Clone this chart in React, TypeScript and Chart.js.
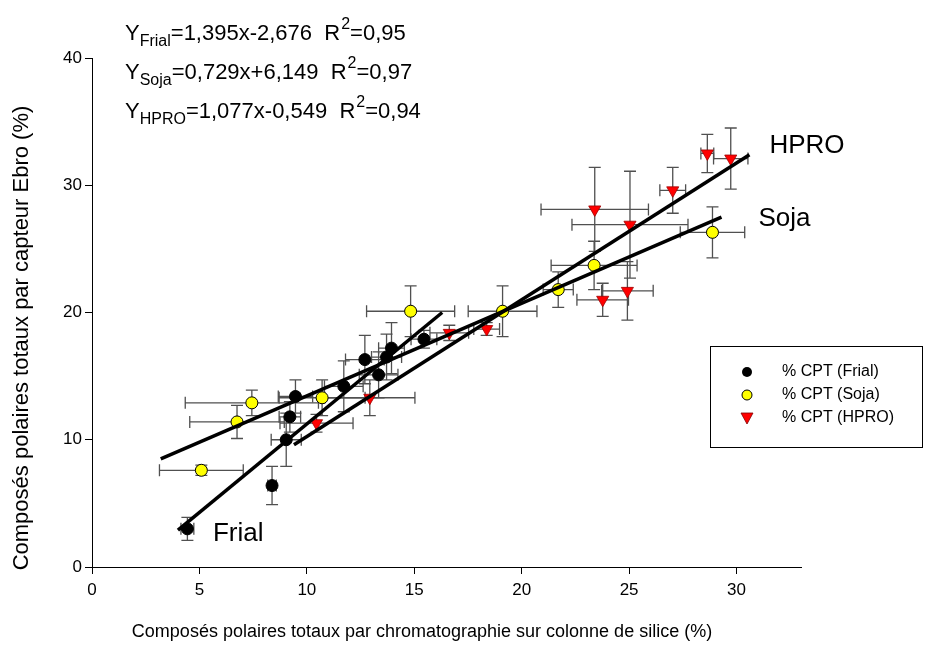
import React, { useEffect, useRef } from 'react';
import { Chart, registerables } from 'chart.js';

Chart.register(...registerables);

// ---------- data ----------
const frialX = [4.44, 8.38, 9.04, 9.21, 9.47, 11.72, 12.70, 13.34, 13.71, 13.94, 15.45];
const frialY = [3.0, 6.4, 10.0, 11.8, 13.4, 14.2, 16.3, 15.1, 16.5, 17.2, 17.9];
const frialXErr = [0.3, 0.2, 0.7, 0.5, 0.8, 0.9, 0.9, 0.9, 0.7, 0.6, 0.6];
const frialYErr = [0.9, 1.5, 2.1, 1.2, 1.3, 2.0, 1.9, 1.8, 1.8, 2.0, 0.7];

const sojaX = [5.09, 6.75, 7.44, 10.71, 14.83, 19.11, 21.70, 23.37, 28.88];
const sojaY = [7.6, 11.4, 12.9, 13.3, 20.1, 20.1, 21.8, 23.7, 26.3];
const sojaXErr = [1.95, 2.2, 3.1, 2.0, 2.05, 1.6, 0.7, 2.0, 1.5];
const sojaYErr = [0.4, 1.3, 1.0, 1.4, 2.0, 2.0, 1.4, 1.9, 2.0];

const hproX = [10.45, 12.93, 16.63, 18.37, 23.40, 25.04, 23.77, 24.92, 27.03, 28.64, 29.73];
const hproY = [11.3, 13.3, 18.4, 18.7, 28.1, 26.9, 21.0, 21.7, 29.6, 32.5, 32.1];
const hproXErr = [1.7, 2.1, 0.9, 0.6, 2.5, 2.7, 1.2, 1.2, 0.6, 0.3, 0.8];
const hproYErr = [0.7, 1.4, 0.6, 0.5, 3.3, 4.2, 1.3, 2.3, 1.8, 1.5, 2.4];

// regression line end points
const fitFrialX = [4.0, 16.3];
const fitFrialY = [2.9, 20.0];
const fitSojaX = [3.2, 29.3];
const fitSojaY = [8.5, 27.5];
const fitHproX = [9.4, 30.6];
const fitHproY = [9.6, 32.4];

const xTicks = [0, 5, 10, 15, 20, 25, 30];
const yTicks = [0, 10, 20, 30, 40];

const legendLabels = ['% CPT (Frial)', '% CPT (Soja)', '% CPT (HPRO)'];
const eqNames = ['Frial', 'Soja', 'HPRO'];
const eqBodies = ['=1,395x-2,676  R', '=0,729x+6,149  R', '=1,077x-0,549  R'];
const eqR2 = ['=0,95', '=0,97', '=0,94'];
const lineLabels = ['Frial', 'Soja', 'HPRO'];

const xTitle = 'Composés polaires totaux par chromatographie sur colonne de silice (%)';
const yTitle = 'Composés polaires totaux par capteur Ebro (%)';

const FONT = 'Arial, "Liberation Sans", sans-serif';

const pts = (xs: number[], ys: number[]) => xs.map((x, i) => ({ x, y: ys[i] }));

const errorBarPlugin = {
  id: 'errorBars',
  beforeDatasetsDraw(chart: any) {
    const ctx = chart.ctx;
    const xs = chart.scales.x;
    const ys = chart.scales.y;
    ctx.save();
    ctx.strokeStyle = '#505050';
    ctx.lineWidth = 1.3;
    const cap = 6;
    chart.data.datasets.forEach((ds: any) => {
      if (!ds.xErr) return;
      ds.data.forEach((p: any, i: number) => {
        const px = xs.getPixelForValue(p.x);
        const py = ys.getPixelForValue(p.y);
        const xl = xs.getPixelForValue(p.x - ds.xErr[i]);
        const xr = xs.getPixelForValue(p.x + ds.xErr[i]);
        const yt = ys.getPixelForValue(p.y + ds.yErr[i]);
        const yb = ys.getPixelForValue(p.y - ds.yErr[i]);
        ctx.beginPath();
        ctx.moveTo(xl, py); ctx.lineTo(xr, py);
        ctx.moveTo(xl, py - cap); ctx.lineTo(xl, py + cap);
        ctx.moveTo(xr, py - cap); ctx.lineTo(xr, py + cap);
        ctx.moveTo(px, yt); ctx.lineTo(px, yb);
        ctx.moveTo(px - cap, yt); ctx.lineTo(px + cap, yt);
        ctx.moveTo(px - cap, yb); ctx.lineTo(px + cap, yb);
        ctx.stroke();
      });
    });
    ctx.restore();
  },
};

const annotationPlugin = {
  id: 'annotations',
  afterDraw(chart: any) {
    const ctx = chart.ctx;
    const xs = chart.scales.x;
    const ys = chart.scales.y;
    ctx.save();
    ctx.fillStyle = '#000';
    ctx.textBaseline = 'alphabetic';

    // equations
    const eqX = 125;
    const eqBase = [40, 79, 118];
    eqNames.forEach((name, i) => {
      let x = eqX;
      const b = eqBase[i];
      ctx.font = `22px ${FONT}`;
      ctx.textAlign = 'left';
      ctx.fillText('Y', x, b);
      x += ctx.measureText('Y').width;
      ctx.font = `16px ${FONT}`;
      ctx.fillText(name, x, b + 6);
      x += ctx.measureText(name).width;
      ctx.font = `22px ${FONT}`;
      ctx.fillText(eqBodies[i], x, b);
      x += ctx.measureText(eqBodies[i]).width;
      ctx.font = `16px ${FONT}`;
      ctx.fillText('2', x + 1, b - 11);
      x += ctx.measureText('2').width + 1;
      ctx.font = `22px ${FONT}`;
      ctx.fillText(eqR2[i], x, b);
    });

    // line labels placed next to line ends
    ctx.font = `26px ${FONT}`;
    ctx.textAlign = 'left';
    ctx.fillText(lineLabels[0], xs.getPixelForValue(fitFrialX[0]) + 35, ys.getPixelForValue(fitFrialY[0]) + 11);
    ctx.fillText(lineLabels[1], xs.getPixelForValue(fitSojaX[1]) + 37, ys.getPixelForValue(fitSojaY[1]) + 9);
    ctx.fillText(lineLabels[2], xs.getPixelForValue(fitHproX[1]) + 20, ys.getPixelForValue(fitHproY[1]) - 2);

    // axis titles
    ctx.font = `18px ${FONT}`;
    ctx.textAlign = 'center';
    ctx.textBaseline = 'middle';
    ctx.fillText(xTitle, 422, 632);
    ctx.save();
    ctx.translate(22, 338);
    ctx.rotate(-Math.PI / 2);
    ctx.font = `22px ${FONT}`;
    ctx.fillText(yTitle, 0, 0);
    ctx.restore();

    // legend
    const bx = 710, by = 346, bw = 212, bh = 101;
    ctx.lineWidth = 1;
    ctx.strokeStyle = '#000';
    ctx.strokeRect(bx + 0.5, by + 0.5, bw, bh);
    const rows = [372, 395, 418];
    ctx.font = `16px ${FONT}`;
    ctx.textAlign = 'left';
    ctx.textBaseline = 'middle';
    rows.forEach((ry, i) => {
      const mx = 747;
      ctx.beginPath();
      if (i === 0) {
        ctx.arc(mx, ry, 5, 0, Math.PI * 2);
        ctx.fillStyle = '#000';
        ctx.fill();
      } else if (i === 1) {
        ctx.arc(mx, ry, 5, 0, Math.PI * 2);
        ctx.fillStyle = '#ffff00';
        ctx.fill();
        ctx.strokeStyle = '#000';
        ctx.stroke();
      } else {
        ctx.moveTo(mx - 6, ry - 5);
        ctx.lineTo(mx + 6, ry - 5);
        ctx.lineTo(mx, ry + 6);
        ctx.closePath();
        ctx.fillStyle = '#ff0000';
        ctx.fill();
        ctx.strokeStyle = '#800000';
        ctx.lineWidth = 0.8;
        ctx.stroke();
        ctx.lineWidth = 1;
      }
      ctx.fillStyle = '#000';
      ctx.fillText(legendLabels[i], 782, ry);
    });
    ctx.restore();
  },
};

export default function App() {
  const ref = useRef<HTMLCanvasElement | null>(null);

  useEffect(() => {
    if (!ref.current) return;
    const lineDs = (xs: number[], ys: number[]) => ({
      type: 'line' as const,
      data: pts(xs, ys),
      borderColor: '#000',
      borderWidth: 3.5,
      pointRadius: 0,
      fill: false,
      showLine: true,
    });
    const chart = new Chart(ref.current, {
      type: 'scatter',
      data: {
        datasets: [
          lineDs(fitFrialX, fitFrialY),
          lineDs(fitSojaX, fitSojaY),
          lineDs(fitHproX, fitHproY),
          {
            label: legendLabels[0],
            data: pts(frialX, frialY),
            xErr: frialXErr,
            yErr: frialYErr,
            pointStyle: 'circle',
            pointRadius: 6,
            backgroundColor: '#000',
            borderColor: '#000',
            borderWidth: 1,
          } as any,
          {
            label: legendLabels[1],
            data: pts(sojaX, sojaY),
            xErr: sojaXErr,
            yErr: sojaYErr,
            pointStyle: 'circle',
            pointRadius: 6,
            backgroundColor: '#ffff00',
            borderColor: '#000',
            borderWidth: 1,
          } as any,
          {
            label: legendLabels[2],
            data: pts(hproX, hproY),
            xErr: hproXErr,
            yErr: hproYErr,
            pointStyle: 'triangle',
            rotation: 180,
            pointRadius: 7,
            backgroundColor: '#ff0000',
            borderColor: '#a00000',
            borderWidth: 0.8,
          } as any,
        ],
      },
      options: {
        animation: false,
        responsive: false,
        devicePixelRatio: 1,
        layout: { padding: { top: 58, right: 124, bottom: 0, left: 0 } },
        plugins: { legend: { display: false }, tooltip: { enabled: false } },
        scales: {
          x: {
            type: 'linear',
            min: 0,
            max: 33,
            afterFit: (s: any) => { s.height = 81; },
            afterBuildTicks: (s: any) => { s.ticks = xTicks.map((v) => ({ value: v })); },
            grid: { drawOnChartArea: false, drawTicks: true, tickLength: 7, color: '#000', tickColor: '#000' },
            border: { display: true, color: '#000', width: 1 },
            ticks: { color: '#000', font: { family: FONT, size: 17 }, padding: 6, maxRotation: 0, autoSkip: false },
          },
          y: {
            type: 'linear',
            min: 0,
            max: 40,
            afterFit: (s: any) => { s.width = 92; },
            afterBuildTicks: (s: any) => { s.ticks = yTicks.map((v) => ({ value: v })); },
            grid: { drawOnChartArea: false, drawTicks: true, tickLength: 7, color: '#000', tickColor: '#000' },
            border: { display: true, color: '#000', width: 1 },
            ticks: { color: '#000', font: { family: FONT, size: 17 }, padding: 3, autoSkip: false },
          },
        },
      } as any,
      plugins: [errorBarPlugin, annotationPlugin],
    });
    return () => chart.destroy();
  }, []);

  return (
    <div style={{ position: 'absolute', left: 0, top: 0, width: 925, height: 648, background: '#fff' }}>
      <canvas ref={ref} width={925} height={648} style={{ display: 'block' }} />
    </div>
  );
}
